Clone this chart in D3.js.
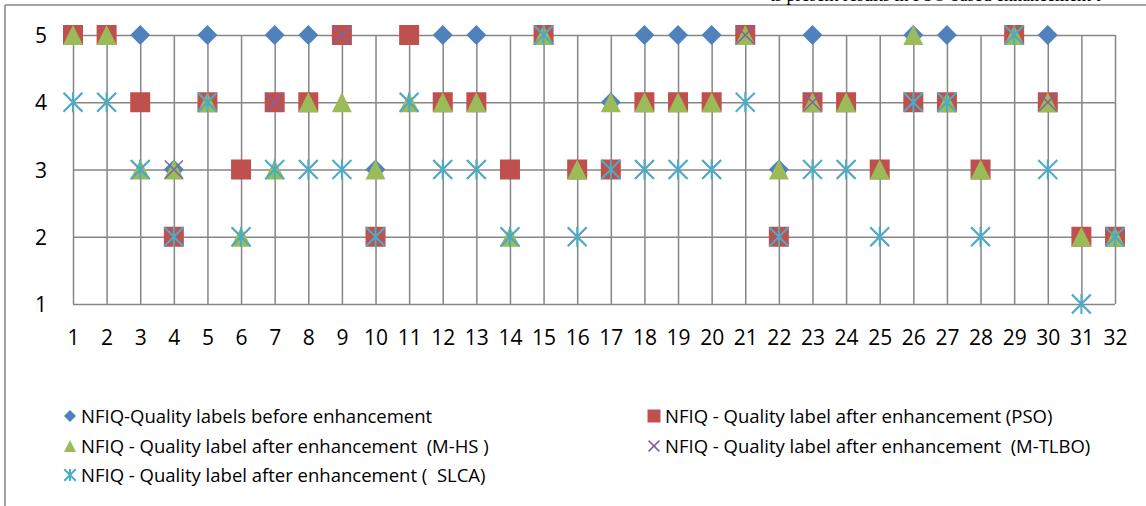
<!DOCTYPE html>
<html><head><meta charset="utf-8">
<script src="https://cdn.jsdelivr.net/npm/d3@7"></script>
<style>
html,body{margin:0;padding:0;background:#fff;}
svg{display:block;}
text{font-family:"Open Sans","Noto Sans",sans-serif;fill:#000;white-space:pre;}
</style></head>
<body>
<svg id="chart" width="1146" height="506"></svg>
<script>
const categories = d3.range(1, 33).map(String);
const yTicks = [1, 2, 3, 4, 5];
const before = [5,5,5,3,5,3,5,5,5,3,5,5,5,3,5,3,4,5,5,5,5,3,5,4,3,5,5,3,5,5,2,2];
const pso    = [5,5,4,2,4,3,4,4,5,2,5,4,4,3,5,3,3,4,4,4,5,2,4,4,3,4,4,3,5,4,2,2];
const mhs    = [5,5,3,3,4,2,3,4,4,3,4,4,4,2,5,3,4,4,4,4,5,3,4,4,3,5,4,3,5,4,2,2];
const mtlbo  = [4,4,3,3,4,2,4,3,5,2,4,3,3,2,5,2,3,3,3,3,5,2,4,3,2,4,4,2,5,4,1,2];
const slca   = [4,4,3,2,4,2,3,3,3,2,4,3,3,2,5,2,3,3,3,3,4,2,3,3,2,4,4,2,5,3,1,2];
const seriesNames = [
  "NFIQ-Quality labels before enhancement",
  "NFIQ - Quality label after enhancement (PSO)",
  "NFIQ - Quality label after enhancement  (M-HS )",
  "NFIQ - Quality label after enhancement  (M-TLBO)",
  "NFIQ - Quality label after enhancement (  SLCA)"
];
const seriesValues = [before, pso, mhs, mtlbo, slca];
const seriesColors = ["#4F81BD", "#C0504D", "#9BBB59", "#8064A2", "#4BACC6"];
const seriesShapes = ["diamond", "square", "triangle", "x", "star"];

const svg = d3.select("#chart");
const grid = "#868686";

// outer frame (partial, cropped)
svg.append("line").attr("x1",5).attr("y1",5).attr("x2",1146).attr("y2",5).attr("stroke",grid).attr("stroke-width",1.5);
svg.append("line").attr("x1",5).attr("y1",5).attr("x2",5).attr("y2",506).attr("stroke",grid).attr("stroke-width",1.5);
// cropped caption above the frame (only its lower edge shows, as in the source)
svg.append("text").attr("x", 770).attr("y", 1)
  .style("font-family", "'Liberation Serif',serif").style("font-size", "18px")
  .text("ts present results in PSO based enhancement t");

const x = d3.scalePoint().domain(categories).range([73, 1115]);
const y = d3.scaleLinear().domain([1, 5]).range([304, 35]);

// gridlines
const gx = svg.append("g").attr("transform", "translate(0,304)")
  .call(d3.axisBottom(x).tickSize(-269).tickFormat(""));
gx.select(".domain").remove();
gx.selectAll("line").attr("stroke", grid).attr("stroke-width", 1.5);

const gy = svg.append("g").attr("transform", "translate(73,0)")
  .call(d3.axisLeft(y).tickValues(yTicks).tickSize(-1042).tickFormat(""));
gy.select(".domain").remove();
gy.selectAll("line").attr("stroke", grid).attr("stroke-width", 1.5);

// axis labels
const ax = svg.append("g").attr("transform", "translate(0,330)")
  .call(d3.axisBottom(x).tickSize(0).tickPadding(0));
ax.select(".domain").remove();
ax.selectAll("text").style("font-size", "21px").attr("dy", "0.71em")
  .style("font-family", "'Open Sans',sans-serif");

const ay = svg.append("g").attr("transform", "translate(47,0)")
  .call(d3.axisLeft(y).tickValues(yTicks).tickSize(0).tickPadding(0).tickFormat(d3.format("d")));
ay.select(".domain").remove();
ay.selectAll("text").style("font-size", "21px").attr("dy", "0.36em")
  .style("font-family", "'Open Sans',sans-serif");

function drawMarker(g, shape, color, s) {
  const h = s / 2;
  if (shape === "diamond") {
    g.append("path").attr("d", `M0,${-h}L${h},0L0,${h}L${-h},0Z`).attr("fill", color);
  } else if (shape === "square") {
    g.append("rect").attr("x", -h).attr("y", -h).attr("width", s).attr("height", s).attr("fill", color);
  } else if (shape === "triangle") {
    g.append("path").attr("d", `M0,${-h}L${h},${h}L${-h},${h}Z`).attr("fill", color);
  } else if (shape === "x") {
    const k = h * 0.9;
    g.append("path").attr("d", `M${-k},${-k}L${k},${k}M${-k},${k}L${k},${-k}`)
      .attr("stroke", color).attr("stroke-width", 1.6).attr("fill", "none");
  } else if (shape === "star") {
    const k = h * 0.95;
    g.append("path").attr("d", `M${-k},${-k}L${k},${k}M${-k},${k}L${k},${-k}M0,${-h}L0,${h}`)
      .attr("stroke", color).attr("stroke-width", 2).attr("fill", "none");
  }
}

seriesValues.forEach((vals, si) => {
  const gs = svg.append("g");
  vals.forEach((v, i) => {
    const g = gs.append("g").attr("transform", `translate(${x(categories[i])},${y(v)})`);
    drawMarker(g, seriesShapes[si], seriesColors[si], 20);
  });
});

// legend
const legendPos = [[70, 416], [654, 416], [70, 446], [654, 446], [70, 475]];
seriesNames.forEach((name, si) => {
  const [lx, ly] = legendPos[si];
  const g = svg.append("g").attr("transform", `translate(${lx},${ly})`);
  drawMarker(g, seriesShapes[si], seriesColors[si], si === 1 ? 13 : 12);
  g.append("text").attr("x", 11).attr("y", 0).attr("dy", "0.36em")
    .style("font-size", "18.5px").style("font-family", "'Open Sans',sans-serif").text(name);
});
</script>
</body></html>
